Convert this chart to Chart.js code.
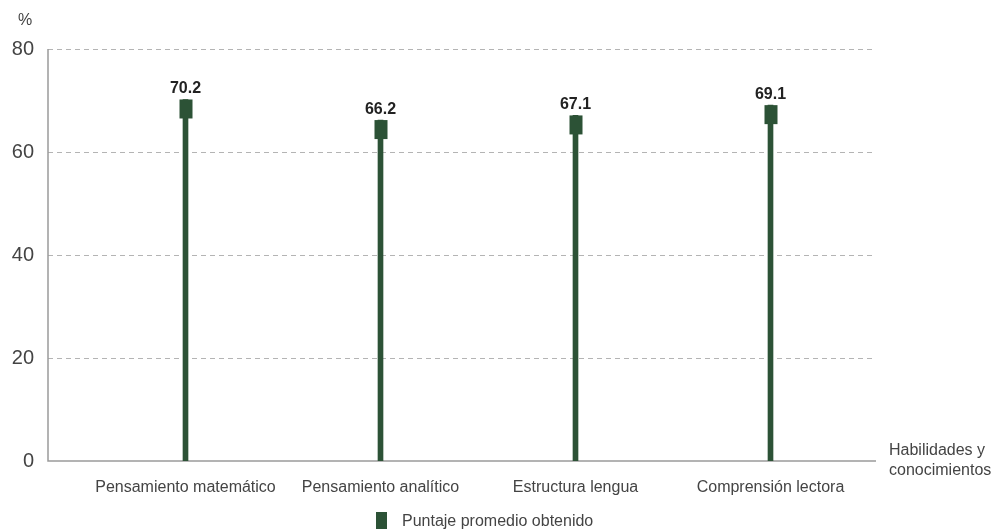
<!DOCTYPE html>
<html>
<head>
<meta charset="utf-8">
<script src="https://cdn.jsdelivr.net/npm/chart.js@4"></script>
<style>
  html, body { margin: 0; padding: 0; background: #fff; }
  #wrap { width: 1002px; height: 531px; }
</style>
</head>
<body>
<div id="wrap"><canvas id="chart"></canvas></div>
<script>
const categories = ['Pensamiento matemático', 'Pensamiento analítico', 'Estructura lengua', 'Comprensión lectora'];
const scores = [70.2, 66.2, 67.1, 69.1];
const seriesName = 'Puntaje promedio obtenido';
const yTicks = [0, 20, 40, 60, 80];

const green = '#2c5236';
const font = "'Liberation Sans', Arial, sans-serif";

// axes, dashed grid, marker heads, value labels, legend and titles
const decor = {
  id: 'decor',
  beforeDatasetsDraw(chart) {
    const ctx = chart.ctx;
    const y = chart.scales.y;
    const x0 = 48, x1 = 876;
    ctx.save();
    ctx.strokeStyle = '#b4b4b4';
    ctx.lineWidth = 1;
    ctx.setLineDash([5, 4]);
    yTicks.forEach(v => {
      if (v === 0) return;
      const py = Math.round(y.getPixelForValue(v)) + 0.5;
      ctx.beginPath();
      ctx.moveTo(x0, py);
      ctx.lineTo(x1, py);
      ctx.stroke();
    });
    ctx.setLineDash([]);
    ctx.strokeStyle = '#9a9a9a';
    ctx.lineWidth = 1.5;
    const top = y.getPixelForValue(80), bot = y.getPixelForValue(0);
    ctx.beginPath();
    ctx.moveTo(x0, top);
    ctx.lineTo(x0, bot);
    ctx.lineTo(x1, bot);
    ctx.stroke();
    ctx.restore();
  },
  afterDatasetsDraw(chart) {
    const ctx = chart.ctx;
    ctx.save();
    const meta = chart.getDatasetMeta(0);
    meta.data.forEach((bar, i) => {
      ctx.fillStyle = green;
      ctx.fillRect(Math.round(bar.x) - 6.5, bar.y, 13, 19);
      ctx.fillStyle = '#222';
      ctx.font = 'bold 16px ' + font;
      ctx.textAlign = 'center';
      ctx.textBaseline = 'alphabetic';
      ctx.fillText(scores[i].toFixed(1), bar.x, bar.y - 6);
    });

    ctx.fillStyle = '#444';
    ctx.font = '16px ' + font;
    ctx.textAlign = 'left';
    ctx.fillText('%', 18, 25);

    ctx.font = '16px ' + font;
    ctx.fillText('Habilidades y', 889, 455);
    ctx.fillText('conocimientos', 889, 475);

    // legend
    ctx.fillStyle = green;
    ctx.fillRect(376, 512, 11, 17);
    ctx.fillStyle = '#444';
    ctx.font = '16px ' + font;
    ctx.fillText(seriesName, 402, 526);
    ctx.restore();
  }
};

new Chart(document.getElementById('chart'), {
  type: 'bar',
  data: {
    labels: categories,
    datasets: [{
      label: seriesName,
      data: scores,
      backgroundColor: green,
      barThickness: 5
    }]
  },
  options: {
    responsive: true,
    maintainAspectRatio: false,
    animation: false,
    layout: { padding: { top: 49, right: 134, bottom: 30, left: 0 } },
    plugins: {
      legend: { display: false },
      tooltip: { enabled: false }
    },
    scales: {
      x: {
        grid: { display: false, drawTicks: false },
        border: { display: false },
        ticks: { color: '#444', font: { family: font, size: 16 }, padding: 17, maxRotation: 0 },
        afterFit(scale) { scale.height = 40; scale.paddingLeft = 0; scale.paddingRight = 0; }
      },
      y: {
        min: 0,
        max: 80,
        grid: { display: false, drawTicks: false },
        border: { display: false },
        ticks: { stepSize: 20, color: '#444', font: { family: font, size: 20 }, padding: 54 },
        afterFit(scale) { scale.width = 88; scale.paddingTop = 0; scale.paddingBottom = 0; }
      }
    }
  },
  plugins: [decor]
});
</script>
</body>
</html>
